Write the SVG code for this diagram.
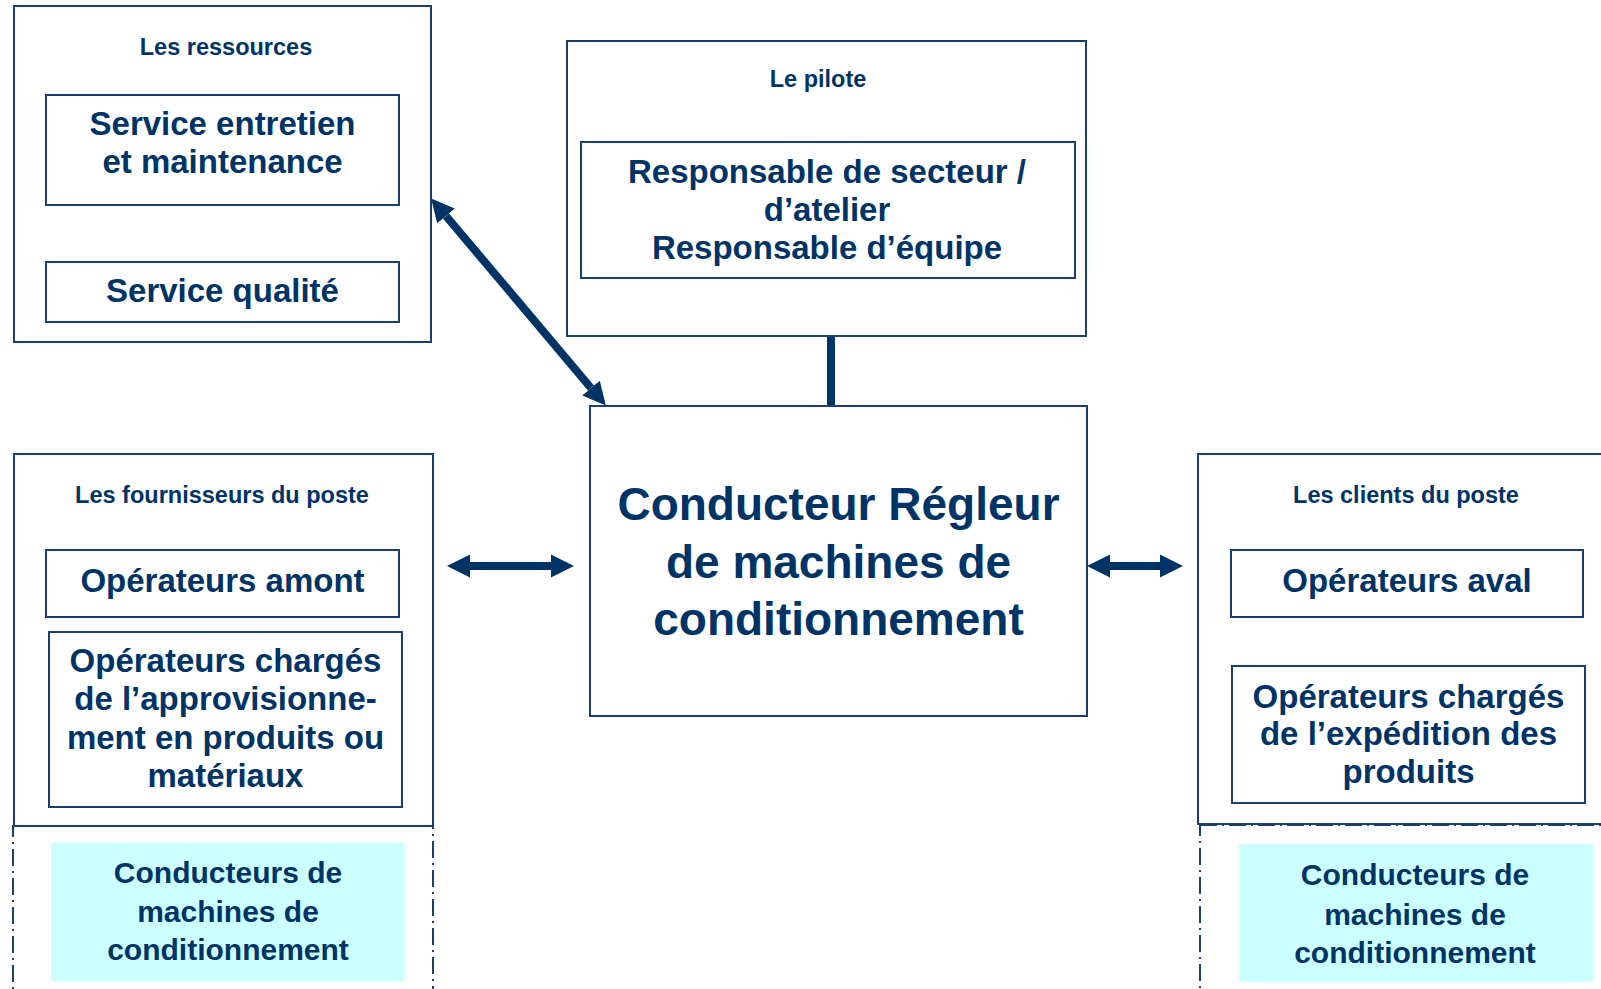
<svg xmlns="http://www.w3.org/2000/svg" width="1601" height="989" viewBox="0 0 1601 989">
<style>
.box{fill:#ffffff;stroke:#1d3f6e;stroke-width:2}
.dash{fill:none;stroke:#1d3f6e;stroke-width:2;stroke-dasharray:17 5 2 5}
.cyan{fill:#ccffff;stroke:none}
text{font-family:"Liberation Sans",Arial,sans-serif;font-weight:bold;fill:#003366;text-anchor:middle}
.h{font-size:23.5px}
.m{font-size:33px}
.c{font-size:30px}
.big{font-size:46px}
.arr{stroke:#003366;stroke-width:8;fill:none;marker-start:url(#ah);marker-end:url(#ah)}
</style>
<defs>
<marker id="ah" markerUnits="userSpaceOnUse" viewBox="0 -12 24 24" markerWidth="24" markerHeight="24" refX="0" refY="0" orient="auto-start-reverse">
<path d="M0,-11.5 L23,0 L0,11.5 z" fill="#003366"/>
</marker>
</defs>
<rect width="1601" height="989" fill="#ffffff"/>

<g id="connectors">
<line class="arr" x1="446" y1="216" x2="591" y2="388"/>
<line class="arr" x1="470" y1="566" x2="551" y2="566"/>
<line class="arr" x1="1110" y1="566" x2="1160" y2="566"/>
<line x1="831" y1="336" x2="831" y2="406" stroke="#003366" stroke-width="8"/>
</g>

<g id="ressources">
<rect class="box" x="14" y="6" width="417" height="336"/>
<text class="h" x="226" y="55">Les ressources</text>
</g>
<g id="service-entretien">
<rect class="box" x="46" y="95" width="353" height="110"/>
<text class="m" x="222.5" y="135">Service entretien</text>
<text class="m" x="222.5" y="173">et maintenance</text>
</g>
<g id="service-qualite">
<rect class="box" x="46" y="262" width="353" height="60"/>
<text class="m" x="222.5" y="302">Service qualité</text>
</g>

<g id="pilote">
<rect class="box" x="567" y="41" width="519" height="295"/>
<text class="h" x="818" y="87">Le pilote</text>
</g>
<g id="responsable">
<rect class="box" x="581" y="142" width="494" height="136"/>
<text class="m" x="827" y="183">Responsable de secteur /</text>
<text class="m" x="827" y="221">d’atelier</text>
<text class="m" x="827" y="259">Responsable d’équipe</text>
</g>

<g id="conducteur-regleur">
<rect class="box" x="590" y="406" width="497" height="310"/>
<text class="big" x="838.5" y="520">Conducteur Régleur</text>
<text class="big" x="838.5" y="578">de machines de</text>
<text class="big" x="838.5" y="635">conditionnement</text>
</g>

<g id="fournisseurs">
<rect class="dash" x="13" y="826" width="420" height="180"/>
<rect class="box" x="14" y="454" width="419" height="372"/>
<text class="h" x="222" y="503">Les fournisseurs du poste</text>
</g>
<g id="operateurs-amont">
<rect class="box" x="46" y="550" width="353" height="67"/>
<text class="m" x="222.5" y="592">Opérateurs amont</text>
</g>
<g id="operateurs-approvisionnement">
<rect class="box" x="49" y="632" width="353" height="175"/>
<text class="m" x="225.5" y="672">Opérateurs chargés</text>
<text class="m" x="225.5" y="710">de l’approvisionne-</text>
<text class="m" x="225.5" y="749">ment en produits ou</text>
<text class="m" x="225.5" y="787">matériaux</text>
</g>
<g id="conducteurs-amont">
<rect class="cyan" x="51" y="843" width="354" height="138"/>
<text class="c" x="228" y="883">Conducteurs de</text>
<text class="c" x="228" y="922">machines de</text>
<text class="c" x="228" y="960">conditionnement</text>
</g>

<g id="clients">
<rect class="dash" x="1200" y="825" width="420" height="180"/>
<rect class="box" x="1198" y="454" width="420" height="370"/>
<text class="h" x="1406" y="503">Les clients du poste</text>
</g>
<g id="operateurs-aval">
<rect class="box" x="1231" y="550" width="352" height="67"/>
<text class="m" x="1407" y="592">Opérateurs aval</text>
</g>
<g id="operateurs-expedition">
<rect class="box" x="1232" y="666" width="353" height="137"/>
<text class="m" x="1408.5" y="708">Opérateurs chargés</text>
<text class="m" x="1408.5" y="745">de l’expédition des</text>
<text class="m" x="1408.5" y="783">produits</text>
</g>
<g id="conducteurs-aval">
<rect class="cyan" x="1239" y="844" width="354" height="138"/>
<text class="c" x="1415" y="885">Conducteurs de</text>
<text class="c" x="1415" y="925">machines de</text>
<text class="c" x="1415" y="963">conditionnement</text>
</g>
</svg>
